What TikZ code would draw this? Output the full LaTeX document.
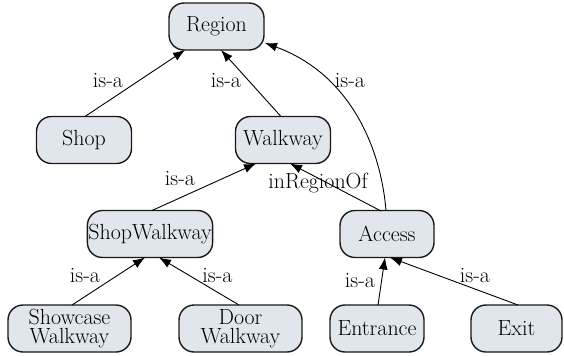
\documentclass[tikz,border=0pt]{standalone}
\usepackage{fontspec}
\usetikzlibrary{arrows.meta}
\definecolor{nodefill}{HTML}{E0E6EC}
\begin{document}
\begin{tikzpicture}[x=1bp,y=-1bp,
  box/.style={draw=black!90, line width=1.4bp, fill=nodefill, rounded corners=15bp,
    minimum height=47bp, inner sep=1bp, align=center,
    font=\fontsize{22}{19.5}\selectfont},
  lbl/.style={font=\fontsize{22}{18}\selectfont, inner sep=1bp},
  arr/.style={-{Latex[length=12bp,width=9bp]}, line width=0.9bp}]
\useasboundingbox (0,0) rectangle (564,355);
\node[box, minimum width=95bp] (region) at (216.5,26.5) {Region};
\node[box, minimum width=95bp] (shop) at (84,140) {Shop};
\node[box, minimum width=95bp] (walkway) at (283,140) {Walkway};
\node[box, minimum width=122bp] (shopwalkway) at (150,234) {ShopWalkway};
\node[box, minimum width=94bp] (access) at (387,234) {Access};
\node[box, minimum width=123bp] (showcase) at (69.5,328.5) {Showcase\\Walkway};
\node[box, minimum width=123bp] (door) at (240.5,328.5) {Door\\Walkway};
\node[box, minimum width=94bp] (entrance) at (377,328.5) {Entrance};
\node[box, minimum width=91bp] (exit) at (516.5,328.5) {Exit};

\coordinate (shopT) at (85,116.5);
\coordinate (regBL) at (185,50);
\coordinate (walkT) at (281,116.5);
\coordinate (regB) at (221,50);
\coordinate (accT) at (386,210.5);
\coordinate (regR) at (265,43);
\coordinate (swT) at (152,210.5);
\coordinate (walkBL) at (256,163.5);
\coordinate (accTL) at (381,211);
\coordinate (walkBR) at (290,163.5);
\coordinate (scT) at (72,305);
\coordinate (swBL) at (145,257.5);
\coordinate (doorT) at (239,305);
\coordinate (swBR) at (159,257.5);
\coordinate (entT) at (378,305);
\coordinate (accB) at (385,257.5);
\coordinate (exitT) at (518,305);
\coordinate (accBR) at (390,257.5);

\draw[arr] (shopT) -- (regBL);
\draw[arr] (walkT) -- (regB);
\draw[arr] (accT) .. controls (380,140) and (345,72) .. (regR);
\draw[arr] (swT) -- (walkBL);
\draw[arr] (accTL) -- (walkBR);
\draw[arr] (scT) -- (swBL);
\draw[arr] (doorT) -- (swBR);
\draw[arr] (entT) -- (accB);
\draw[arr] (exitT) -- (accBR);

\node[lbl] (l1) at (108,81) {is-a};
\node[lbl] (l2) at (226,81) {is-a};
\node[lbl] (l3) at (350,81) {is-a};
\node[lbl] (l4) at (180,179) {is-a};
\node[lbl] (l5) at (318,183) {inRegionOf};
\node[lbl] (l6) at (85,276) {is-a};
\node[lbl] (l7) at (217.5,276) {is-a};
\node[lbl] (l8) at (360,281) {is-a};
\node[lbl] (l9) at (475,276) {is-a};
\end{tikzpicture}
\end{document}
